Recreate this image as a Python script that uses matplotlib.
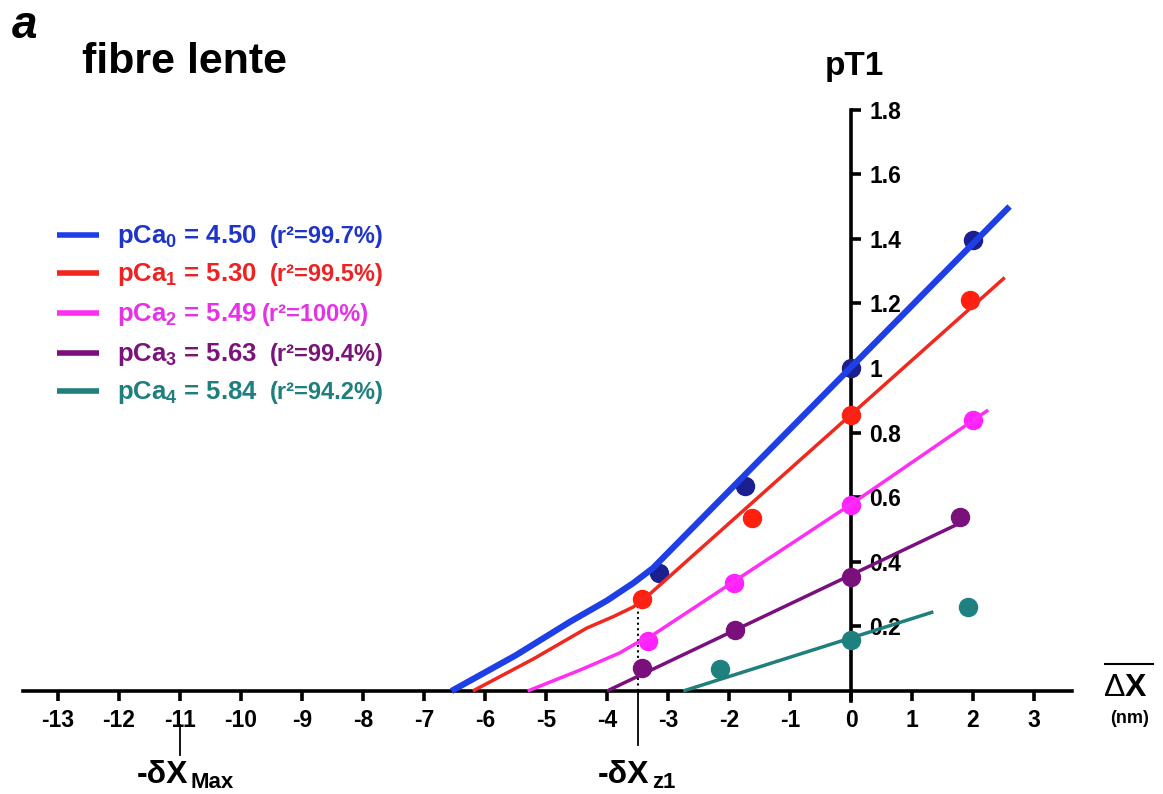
import matplotlib
matplotlib.use('Agg')
import matplotlib.pyplot as plt
from matplotlib.lines import Line2D

plt.rcParams['font.family'] = ['Liberation Sans', 'DejaVu Sans']
plt.rcParams['font.weight'] = 'bold'
plt.rcParams['mathtext.fontset'] = 'custom'
plt.rcParams['mathtext.rm'] = 'Liberation Sans:bold'
plt.rcParams['mathtext.default'] = 'rm'

# measured points (pT1 vs shortening, nm)
blue_x = [-3.15, -1.74, 0.0, 2.0]
blue_y = [0.365, 0.635, 1.0, 1.396]
red_x = [-3.43, -1.62, 0.0, 1.95]
red_y = [0.285, 0.536, 0.855, 1.21]
mag_x = [-3.33, -1.92, 0.0, 2.0]
mag_y = [0.155, 0.334, 0.576, 0.84]
pur_x = [-3.43, -1.9, 0.0, 1.79]
pur_y = [0.071, 0.189, 0.353, 0.54]
teal_x = [-2.15, 0.0, 1.92]
teal_y = [0.068, 0.158, 0.26]

# fitted curves
blue_fx = [-6.55, -5.5, -4.6, -4.0, -3.57, -3.25, 2.6]
blue_fy = [0.0, 0.11, 0.215, 0.28, 0.334, 0.38, 1.5]
red_fx = [-6.2, -5.2, -4.33, -3.9, -3.57, -3.3, 2.52]
red_fy = [0.0, 0.1, 0.195, 0.23, 0.26, 0.3, 1.28]
mag_fx = [-5.3, -4.44, -3.79, -3.51, -3.3, 0.0, 2.25]
mag_fy = [0.0, 0.065, 0.118, 0.149, 0.167, 0.578, 0.87]
pur_fx = [-4.0, 1.9]
pur_fy = [0.0, 0.53]
teal_fx = [-2.75, 1.35]
teal_fy = [0.0, 0.245]

pca_sub = ['0', '1', '2', '3', '4']
pca_val = ['4.50', '5.30', '5.49', '5.63', '5.84']
r2_txt = ['(r²=99.7%)', '(r²=99.5%)', '(r²=100%)', '(r²=99.4%)', '(r²=94.2%)']

xticks = list(range(-13, 4))
yticks = [0.2, 0.4, 0.6, 0.8, 1.0, 1.2, 1.4, 1.6, 1.8]
ytick_labels = ['0.2', '0.4', '0.6', '0.8', '1', '1.2', '1.4', '1.6', '1.8']
dx_z1 = -3.5
dx_max = -11

line_cols = ['#1f3fe6', '#f0281e', '#ff2ef5', '#7b0f7f', '#1f7f7c']
mark_cols = ['#1b1f8f', '#ff2010', '#ff22ff', '#7a107a', '#1f8080']
text_cols = ['#1f35c8', '#ee2222', '#e632e6', '#7a137a', '#1f7f7f']
line_w = [4.5, 2.5, 2.5, 2.5, 2.5]

W, H = 1163, 794
fig = plt.figure(figsize=(W / 100, H / 100), dpi=100)
ax = fig.add_axes([0, 0, 1, 1])
ax.set_xlim((0 - 851) / 61, (W - 851) / 61)
ax.set_ylim((691 - H) / 323, 691 / 323)

pts = [(blue_x, blue_y), (red_x, red_y), (mag_x, mag_y), (pur_x, pur_y), (teal_x, teal_y)]
fits = [(blue_fx, blue_fy), (red_fx, red_fy), (mag_fx, mag_fy), (pur_fx, pur_fy), (teal_fx, teal_fy)]
for i in range(5):
    ax.plot(pts[i][0], pts[i][1], 'o', ms=13, color=mark_cols[i], zorder=3)
    ax.plot(fits[i][0], fits[i][1], '-', lw=line_w[i], color=line_cols[i],
            solid_capstyle='butt', solid_joinstyle='round', zorder=4)

for s in ['top', 'left']:
    ax.spines[s].set_visible(False)
ax.spines['right'].set_position(('data', 0))
ax.spines['bottom'].set_position(('data', 0))
ax.spines['right'].set_bounds(-0.03, 1.8)
ax.spines['bottom'].set_bounds(-13.57, 3.62)
for s in ['right', 'bottom']:
    ax.spines[s].set_linewidth(2.6)
ax.yaxis.set_ticks_position('right')
ax.xaxis.set_ticks_position('bottom')
ax.set_xticks(xticks)
ax.set_xticklabels([str(t) for t in xticks])
ax.set_yticks(yticks)
ax.set_yticklabels(ytick_labels)
ax.tick_params(axis='both', direction='out', length=7, width=2.6, labelsize=16.5)
ax.tick_params(axis='x', pad=6)
ax.tick_params(axis='y', pad=6)

# reference markers on the x axis
ax.plot([dx_z1, dx_z1], [0, 0.28], ':', color='black', lw=1.5, zorder=2)
ax.plot([dx_z1, dx_z1], [0, -0.167], '-', color='black', lw=1.3)
ax.plot([dx_max, dx_max], [-0.105, -0.198], '-', color='black', lw=1.3)


def fx(px):
    return px / W


def fy(py):
    return 1 - py / H


fig.text(fx(137), fy(783), '-δX', fontsize=23, va='baseline')
fig.text(fx(191), fy(788), 'Max', fontsize=16, va='baseline')
fig.text(fx(598), fy(783), '-δX', fontsize=23, va='baseline')
fig.text(fx(652), fy(788), 'z1', fontsize=16, va='baseline')

# axis titles
fig.text(fx(825), fy(75), 'pT1', fontsize=24, va='baseline')
fig.text(fx(1104), fy(696), 'Δ', fontsize=23, fontweight='normal', va='baseline')
fig.text(fx(1125), fy(696), 'X', fontsize=23, va='baseline')
fig.add_artist(Line2D([fx(1105), fx(1153)], [fy(664), fy(664)], color='black', lw=1.5))
fig.text(fx(1110), fy(723), '(nm)', fontsize=13, va='baseline')

fig.text(fx(12), fy(38), 'a', fontsize=33, style='italic', va='baseline')
fig.text(fx(82), fy(73), 'fibre lente', fontsize=31, va='baseline')

# legend
leg_y = [235, 273, 313, 353, 391]
for i in range(5):
    fig.add_artist(Line2D([fx(57), fx(99)], [fy(leg_y[i]), fy(leg_y[i])],
                          color=line_cols[i], lw=4, solid_capstyle='butt'))
    fig.text(fx(117), fy(leg_y[i] + 8), 'pCa$_{' + pca_sub[i] + '}$ = ' + pca_val[i],
             fontsize=18.5, color=text_cols[i], va='baseline')
    px0 = 262 if i == 2 else 270
    fig.text(fx(px0), fy(leg_y[i] + 8), r2_txt[i], fontsize=17,
             color=text_cols[i], va='baseline')

fig.savefig('out.png', dpi=100)
